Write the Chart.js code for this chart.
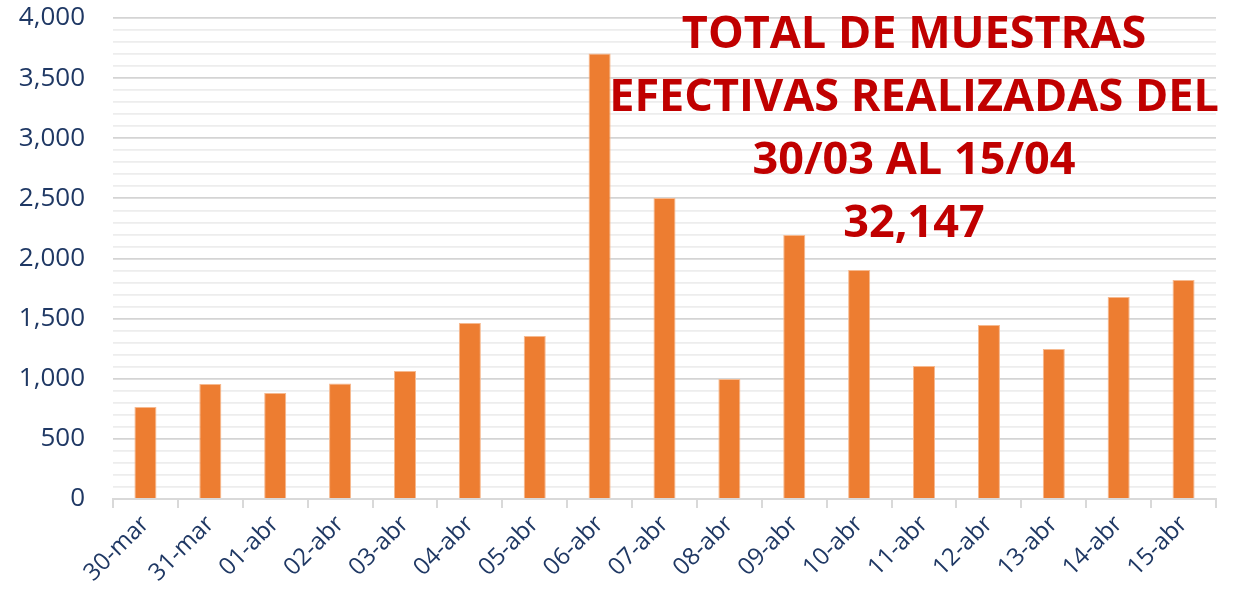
<!DOCTYPE html>
<html>
<head>
<meta charset="utf-8">
<script src="https://cdn.jsdelivr.net/npm/chart.js@4"></script>
<style>
  html, body { margin: 0; padding: 0; background: #ffffff; }
  #wrap { width: 1248px; height: 600px; }
</style>
</head>
<body>
<div id="wrap"><canvas id="muestras-chart" width="1248" height="600"></canvas></div>
<script>
// Datos
const fechas = ['30-mar', '31-mar', '01-abr', '02-abr', '03-abr', '04-abr', '05-abr', '06-abr', '07-abr',
    '08-abr', '09-abr', '10-abr', '11-abr', '12-abr', '13-abr', '14-abr', '15-abr'];
const muestras = [765, 956, 881, 960, 1064, 1464, 1356, 3705, 2503, 998, 2195, 1904, 1106, 1447, 1247, 1680, 1821];
const tituloLineas = ['TOTAL DE MUESTRAS', 'EFECTIVAS REALIZADAS DEL', '30/03 AL 15/04', '32,147'];

const NAVY = '#1F3864';
const FONT = "'Open Sans', sans-serif";

// Título rojo dentro del área de la gráfica
const tituloPlugin = {
    id: 'tituloRojo',
    afterDraw(chart) {
        const ctx = chart.ctx;
        ctx.save();
        ctx.fillStyle = '#C00000';
        ctx.font = `bold 45px ${FONT}`;
        ctx.textAlign = 'center';
        ctx.textBaseline = 'alphabetic';
        const cx = 914;
        tituloLineas.forEach((linea, i) => {
            ctx.fillText(linea, cx, 48 + i * 63);
        });
        ctx.restore();
    }
};

new Chart(document.getElementById('muestras-chart'), {
    type: 'bar',
    data: {
        labels: fechas,
        datasets: [{
            label: 'Muestras',
            data: muestras,
            backgroundColor: '#ED7D31',
            borderColor: '#F6B98F',
            borderWidth: 1,
            barPercentage: 0.34,
            categoryPercentage: 1
        }]
    },
    options: {
        responsive: false,
        animation: false,
        layout: { padding: { left: 16, right: 32, top: 18, bottom: 0 } },
        plugins: {
            legend: { display: false },
            tooltip: { enabled: false }
        },
        scales: {
            x: {
                offset: true,
                grid: {
                    offset: true,
                    drawOnChartArea: false,
                    color: '#D9D9D9',
                    lineWidth: 2,
                    tickLength: 9
                },
                border: { color: '#D9D9D9', width: 2 },
                ticks: {
                    color: NAVY,
                    font: { family: FONT, size: 24 },
                    maxRotation: 45,
                    minRotation: 45,
                    padding: 2,
                    autoSkip: false
                },
                afterFit: s => { s.height = 101; s.paddingTop = 0; }
            },
            y: {
                min: 0,
                max: 4000,
                grid: {
                    color: c => (c.tick && c.tick.value % 500 === 0) ? '#D4D4D4' : '#EDEDED',
                    lineWidth: 1.8,
                    drawTicks: false
                },
                border: { display: false },
                ticks: {
                    stepSize: 100,
                    autoSkip: false,
                    color: NAVY,
                    font: { family: FONT, size: 26 },
                    padding: 28,
                    callback: v => v % 500 === 0 ? v.toLocaleString('en-US') : ''
                },
                afterFit: s => { s.width = 97; s.paddingTop = 0; s.paddingBottom = 0; }
            }
        }
    },
    plugins: [tituloPlugin]
});
</script>
</body>
</html>
